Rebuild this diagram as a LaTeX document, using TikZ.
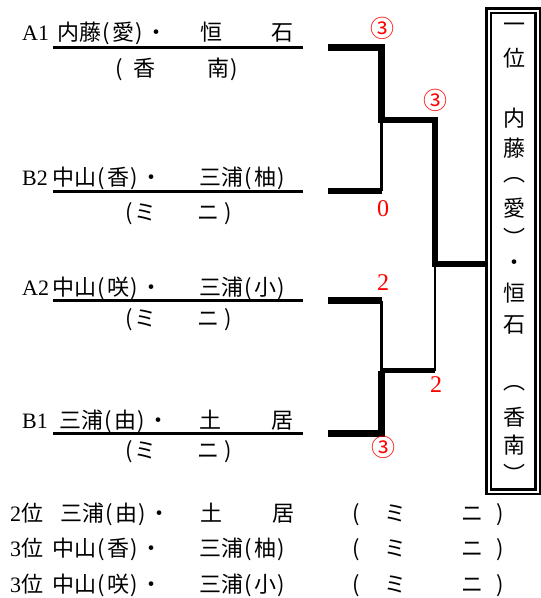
\documentclass[tikz,border=0pt]{standalone}
\usepackage{fontspec}
\setmainfont{Liberation Serif}
\newfontfamily\jp{Noto Sans CJK JP}
\usetikzlibrary{positioning, calc}
\newcommand\lkk{\makebox[.5em]{(}}
\newcommand\rkk{\makebox[.5em]{)}}

\begin{document}
\begin{tikzpicture}[x=1pt, y=-1pt,
seed/.style={anchor=base west, inner sep=0pt, font=\fontsize{22}{22}\selectfont},
pair/.style={anchor=base west, inner sep=0pt, font=\jp\fontsize{22}{22}\selectfont},
score/.style={text=red, inner sep=0pt, font=\fontsize{24}{24}\selectfont},
circ/.style={text=red, inner sep=0pt, font=\jp\fontsize{24}{24}\selectfont},
under/.style={line width=3pt},
won/.style={line width=6.5pt},
half/.style={line width=5pt},
lost/.style={line width=2.2pt},
champ/.style={draw, double, line width=2.5pt, double distance=2pt, minimum width=49pt, minimum height=481pt, inner sep=0pt} ]
\useasboundingbox (0,0) rectangle (541,598);

% entries
\node (la1) [seed] at (22,40.5) {A1};
\node (na1) [pair] at (57,40.5) {内藤\lkk 愛\rkk・\hspace{33pt}恒\hspace{49pt}石};
\node (sa1) [pair] at (114,76) {\lkk\hspace{8pt}香\hspace{52pt}南\rkk};

\node (lb2) [seed] at (22,185.5) {B2};
\node (nb2) [pair] at (52,185.5) {中山\lkk 香\rkk・\hspace{37pt}三浦\lkk 柚\rkk};
\node (sb2) [pair] at (123.5,220) {\lkk ミ\hspace{40.5pt}ニ\hspace{3.5pt}\rkk};

\node (la2) [seed] at (22,295.5) {A2};
\node (na2) [pair] at (52,295.5) {中山\lkk 咲\rkk・\hspace{37pt}三浦\lkk 小\rkk};
\node (sa2) [pair] at (123.5,326) {\lkk ミ\hspace{40.5pt}ニ\hspace{3.5pt}\rkk};

\node (lb1) [seed] at (22,428.5) {B1};
\node (nb1) [pair] at (59,428.5) {三浦\lkk 由\rkk・\hspace{30pt}土\hspace{50pt}居};
\node (sb1) [pair] at (123.5,458) {\lkk ミ\hspace{40.5pt}ニ\hspace{3.5pt}\rkk};

\foreach \y/\n in {47.5/a1, 191/b2, 300.5/a2, 433.5/b1}{
  \coordinate (\n) at (328,\y);
  \draw[under] (53,\y) -- (303,\y);
}

% bracket
\coordinate (s1) at (381.5,120);
\coordinate (s2) at (381.5,370.5);
\coordinate (fin) at (435,264);
\node (win) [champ] at (513,251) {};

\draw[won] (a1) -| (s1) -| (fin) -- (fin -| win.west);
\draw[won] (b2) -- (b2 -| s1);
\draw[lost] (b2 -| s1) -- (s1);
\draw[won] (a2) -- (a2 -| s2);
\draw[lost] (a2 -| s2) -- (s2);
\draw[won] (b1) -| (s2);
\draw[half] (s2) -- (s2 -| fin);
\draw[lost] (s2 -| fin) -- (fin);

% scores
\node (c1) [circ] at (382,28) {③};
\node (c2) [circ] at (435,100) {③};
\node (c3) [score] at (383,209) {0};
\node (c4) [score] at (383,283) {2};
\node (c5) [score] at (436,385) {2};
\node (c6) [circ] at (383,447) {③};

% champion
\foreach \c/\y [count=\i] in {一/28, 位/58, 内/118, 藤/148, ︵/180, 愛/208, ︶/237, ・/265, 恒/293, 石/325, ︵/388, 香/417, 南/445, ︶/473}
  \node (w\i) [pair, anchor=center] at (514,\y) {\c};

% places
\node (r2) [seed] at (10,521) {2{\jp 位}};
\node (p2) [pair] at (60,521) {三浦\lkk 由\rkk・\hspace{30pt}土\hspace{50pt}居};
\node (m2) [pair] at (351,521) {\lkk\hspace{22pt}ミ\hspace{55pt}ニ\hspace{11.5pt}\rkk};

\node (r3) [seed] at (10,556.5) {3{\jp 位}};
\node (p3) [pair] at (52,556.5) {中山\lkk 香\rkk・\hspace{37pt}三浦\lkk 柚\rkk};
\node (m3) [pair] at (351,556.5) {\lkk\hspace{22pt}ミ\hspace{55pt}ニ\hspace{11.5pt}\rkk};

\node (r4) [seed] at (10,592) {3{\jp 位}};
\node (p4) [pair] at (52,592) {中山\lkk 咲\rkk・\hspace{37pt}三浦\lkk 小\rkk};
\node (m4) [pair] at (351,592) {\lkk\hspace{22pt}ミ\hspace{55pt}ニ\hspace{11.5pt}\rkk};
\end{tikzpicture}
\end{document}
